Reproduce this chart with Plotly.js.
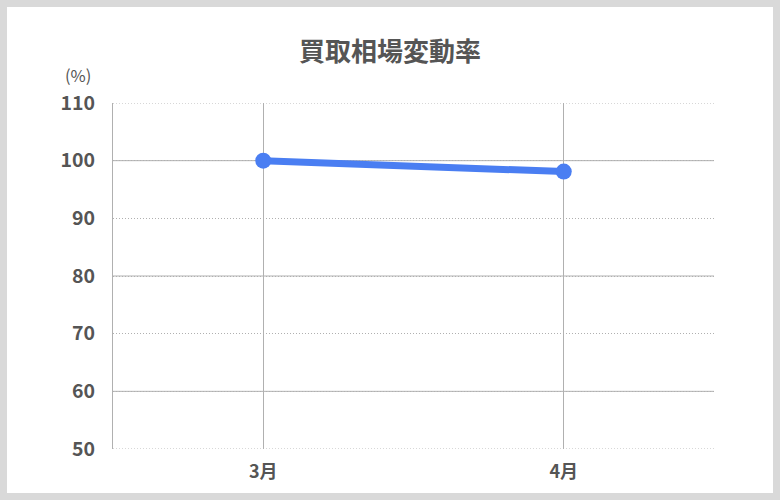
<!DOCTYPE html>
<html>
<head>
<meta charset="utf-8">
<script src="https://cdn.plot.ly/plotly-3.0.1.min.js"></script>
<style>
  html, body { margin: 0; padding: 0; background: #d9d9d9; }
  #chart { position: absolute; left: 7px; top: 7px; width: 766px; height: 486px; background: #fff; }
</style>
</head>
<body>
<div id="chart"></div>
<script>
const months = ["3月", "4月"];
const rates = [100, 98.1];
const yTicks = [50, 60, 70, 80, 90, 100, 110];
const solidGrid = [60, 80, 100];
const edgeGrid = [50, 110];

const font = "'Noto Sans CJK JP', 'Noto Sans', sans-serif";
const textColor = "#555555";
const gridColor = "#b0b0b0";

function hLine(v, dash) {
  return {
    type: "line",
    xref: "paper",
    yref: "y",
    x0: 0,
    x1: 1,
    y0: v,
    y1: v,
    layer: "below",
    line: { color: gridColor, width: 1, dash: dash },
  };
}

// solid every 20, dotted in between; plotly drops grid at the range ends
const gridShapes = solidGrid
  .map((v) => hLine(v, "solid"))
  .concat(edgeGrid.map((v) => hLine(v, "1px,2px")));

Plotly.newPlot(
  "chart",
  [
    {
      x: months,
      y: rates,
      type: "scatter",
      mode: "lines+markers",
      line: { color: "#4a7ef2", width: 7 },
      marker: { color: "#4a7ef2", size: 16 },
      hoverinfo: "skip",
    },
  ],
  {
    width: 766,
    height: 486,
    margin: { l: 106, r: 59, t: 96, b: 44 },
    paper_bgcolor: "#ffffff",
    plot_bgcolor: "#ffffff",
    showlegend: false,
    font: { family: font, color: textColor },
    title: {
      text: "<b>買取相場変動率</b>",
      font: { size: 26, color: textColor, family: font },
      x: 0.5,
      xanchor: "center",
      y: 0.907,
      yanchor: "middle",
    },
    xaxis: {
      type: "category",
      range: [-0.5, 1.5],
      showgrid: true,
      gridcolor: gridColor,
      gridwidth: 1,
      zeroline: false,
      showline: false,
      ticks: "",
      ticklabelstandoff: 10,
      tickfont: { size: 18, color: textColor, family: font, weight: "bold" },
      fixedrange: true,
    },
    yaxis: {
      range: [50, 110],
      tickvals: yTicks,
      showgrid: true,
      gridcolor: gridColor,
      gridwidth: 1,
      griddash: "1px,2px",
      zeroline: false,
      showline: true,
      linecolor: gridColor,
      linewidth: 1,
      ticks: "",
      ticklabelstandoff: 13,
      tickfont: { size: 19.5, color: textColor, family: font, weight: "bold" },
      fixedrange: true,
    },
    shapes: gridShapes,
    annotations: [
      {
        text: "(%)",
        xref: "paper",
        yref: "paper",
        x: -0.033,
        y: 1.081,
        xanchor: "right",
        yanchor: "middle",
        showarrow: false,
        font: { size: 16.5, color: textColor, family: font },
      },
    ],
  },
  { displayModeBar: false, staticPlot: true }
);
</script>
</body>
</html>
